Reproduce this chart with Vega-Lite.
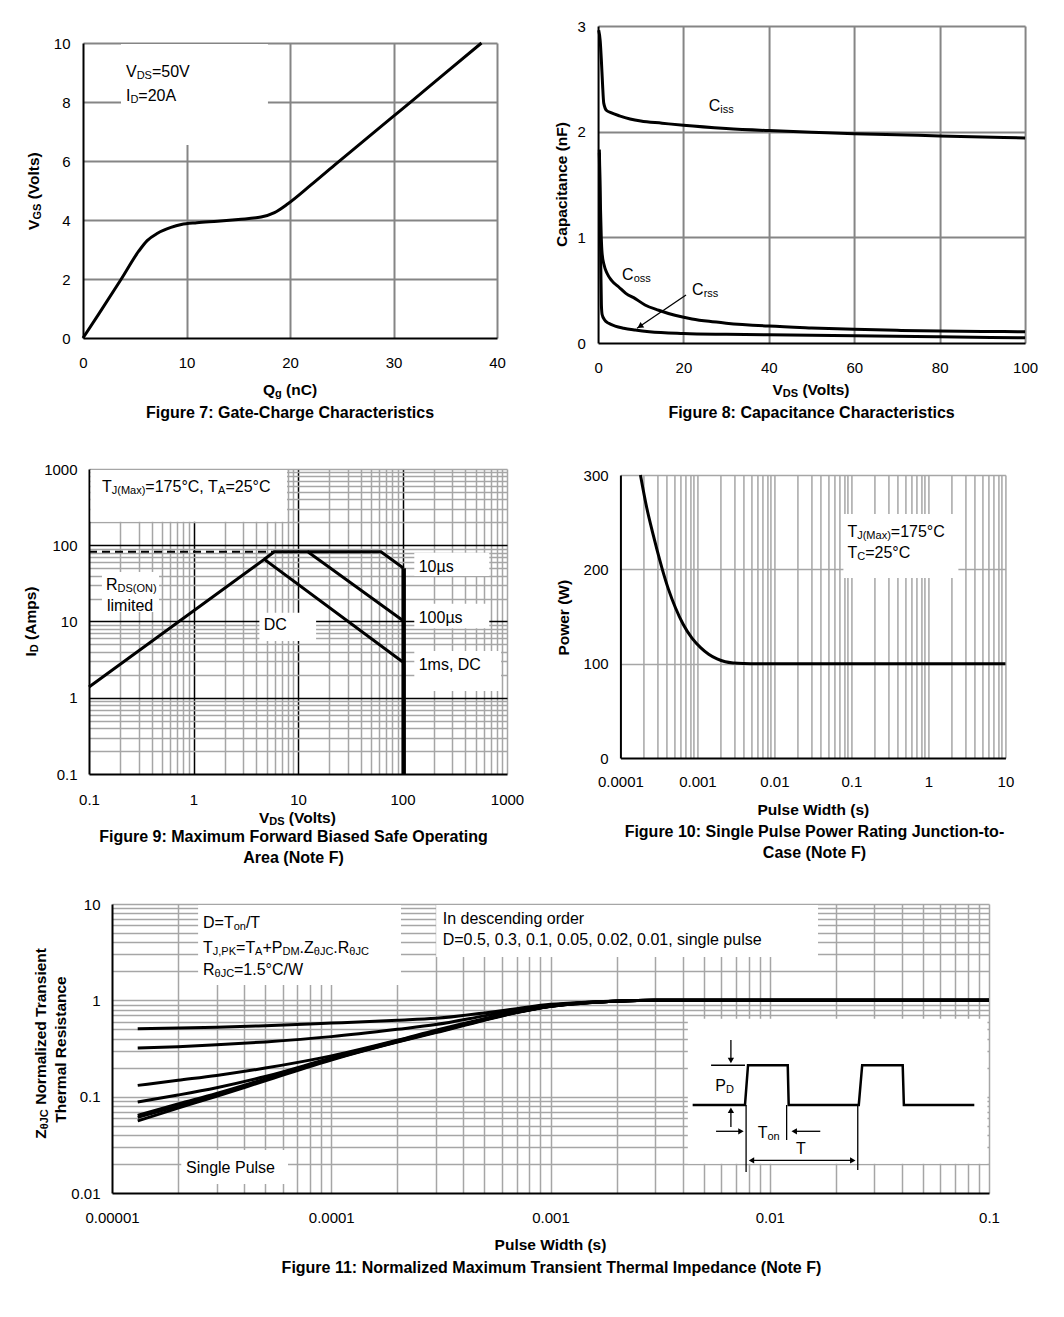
{
"$schema": "https://vega.github.io/schema/vega-lite/v6.json",
"padding": {"left": 0, "top": 19, "right": 0, "bottom": 0},
"background": "white",
"config": {
  "view": {"stroke": null},
  "font": "Liberation Sans",
  "axis": {"ticks": false, "tickSize": 0, "domainColor": "black", "domainWidth": 2, "labelFont": "Liberation Sans", "labelFontSize": 15, "labelColor": "black", "labelFlush": false, "labelOverlap": false, "grid": true, "gridColor": "#a6a6a6", "gridWidth": 1.5}
},
"datasets": {
  "f7box": [{"x":3.67,"x2":17.87,"y":6.54,"y2":9.966}],
  "f7line": [{"o":0,"x":0,"y":0},{"o":1,"x":1.5,"y":0.8},{"o":2,"x":3.7,"y":2.0},{"o":3,"x":5.4,"y":2.95},{"o":4,"x":6.2,"y":3.3},{"o":5,"x":7.2,"y":3.55},{"o":6,"x":8.5,"y":3.75},{"o":7,"x":9.5,"y":3.85},{"o":8,"x":11,"y":3.91},{"o":9,"x":13,"y":3.96},{"o":10,"x":15,"y":4.02},{"o":11,"x":17.2,"y":4.1},{"o":12,"x":18.5,"y":4.25},{"o":13,"x":19.8,"y":4.55},{"o":14,"x":22,"y":5.18},{"o":15,"x":24.3,"y":5.86},{"o":16,"x":27.5,"y":6.79},{"o":17,"x":29.8,"y":7.46},{"o":18,"x":32,"y":8.1},{"o":19,"x":35,"y":8.98},{"o":20,"x":38.5,"y":10}],
  "f7text": [
    {"role":"ann","t":"V","x":4.155,"y":8.834},
    {"role":"sub","t":"DS","x":5.186,"y":8.834},
    {"role":"ann","t":"=50V","x":6.662,"y":8.834},
    {"role":"ann","t":"I","x":4.155,"y":8.044},
    {"role":"sub","t":"D","x":4.585,"y":8.044},
    {"role":"ann","t":"=20A","x":5.35,"y":8.044},
    {"role":"tit","t":"Q","x":17.39,"y":-1.946},
    {"role":"titsub","t":"g","x":18.56,"y":-1.946},
    {"role":"tit","t":"(nC)","x":19.62,"y":-1.946},
    {"role":"titr","t":"V","x":-4.213,"y":3.664},
    {"role":"titrsub","t":"GS","x":-4.213,"y":4.015},
    {"role":"titr","t":"(Volts)","x":-4.213,"y":4.7},
    {"role":"cap","t":"Figure 7: Gate-Charge Characteristics","x":20,"y":-2.725}
  ],
  "f8line": [
    {"s":"Ciss","o":0,"x":0.15,"y":2.96},{"s":"Ciss","o":1,"x":0.5,"y":2.86},{"s":"Ciss","o":2,"x":0.77,"y":2.68},{"s":"Ciss","o":3,"x":1.05,"y":2.45},{"s":"Ciss","o":4,"x":1.33,"y":2.27},{"s":"Ciss","o":5,"x":2,"y":2.2},{"s":"Ciss","o":6,"x":3,"y":2.18},{"s":"Ciss","o":7,"x":5,"y":2.15},{"s":"Ciss","o":8,"x":7.5,"y":2.12},{"s":"Ciss","o":9,"x":10,"y":2.1},{"s":"Ciss","o":10,"x":15,"y":2.08},{"s":"Ciss","o":11,"x":20,"y":2.06},{"s":"Ciss","o":12,"x":30,"y":2.03},{"s":"Ciss","o":13,"x":40,"y":2.01},{"s":"Ciss","o":14,"x":50,"y":1.995},{"s":"Ciss","o":15,"x":60,"y":1.98},{"s":"Ciss","o":16,"x":70,"y":1.97},{"s":"Ciss","o":17,"x":80,"y":1.96},{"s":"Ciss","o":18,"x":90,"y":1.95},{"s":"Ciss","o":19,"x":100,"y":1.94},
    {"s":"Coss","o":0,"x":0.3,"y":1.83},{"s":"Coss","o":1,"x":0.54,"y":1.32},{"s":"Coss","o":2,"x":0.75,"y":1.0},{"s":"Coss","o":3,"x":0.94,"y":0.85},{"s":"Coss","o":4,"x":1.4,"y":0.74},{"s":"Coss","o":5,"x":2.1,"y":0.66},{"s":"Coss","o":6,"x":3.2,"y":0.59},{"s":"Coss","o":7,"x":4.85,"y":0.53},{"s":"Coss","o":8,"x":6.5,"y":0.47},{"s":"Coss","o":9,"x":8.7,"y":0.42},{"s":"Coss","o":10,"x":11,"y":0.36},{"s":"Coss","o":11,"x":14.2,"y":0.31},{"s":"Coss","o":12,"x":18,"y":0.262},{"s":"Coss","o":13,"x":22,"y":0.228},{"s":"Coss","o":14,"x":26,"y":0.205},{"s":"Coss","o":15,"x":30,"y":0.188},{"s":"Coss","o":16,"x":40,"y":0.16},{"s":"Coss","o":17,"x":50,"y":0.143},{"s":"Coss","o":18,"x":60,"y":0.13},{"s":"Coss","o":19,"x":70,"y":0.12},{"s":"Coss","o":20,"x":80,"y":0.113},{"s":"Coss","o":21,"x":90,"y":0.11},{"s":"Coss","o":22,"x":100,"y":0.107},
    {"s":"Crss","o":0,"x":0.3,"y":1.8},{"s":"Crss","o":1,"x":0.5,"y":1.2},{"s":"Crss","o":2,"x":0.65,"y":0.7},{"s":"Crss","o":3,"x":0.78,"y":0.36},{"s":"Crss","o":4,"x":0.95,"y":0.27},{"s":"Crss","o":5,"x":1.5,"y":0.22},{"s":"Crss","o":6,"x":2.5,"y":0.186},{"s":"Crss","o":7,"x":4,"y":0.16},{"s":"Crss","o":8,"x":6,"y":0.14},{"s":"Crss","o":9,"x":8.7,"y":0.123},{"s":"Crss","o":10,"x":12,"y":0.107},{"s":"Crss","o":11,"x":20,"y":0.09},{"s":"Crss","o":12,"x":30,"y":0.082},{"s":"Crss","o":13,"x":40,"y":0.077},{"s":"Crss","o":14,"x":60,"y":0.068},{"s":"Crss","o":15,"x":80,"y":0.058},{"s":"Crss","o":16,"x":100,"y":0.05}
  ],
  "f8arrow": [{"x":20.6,"y":0.454,"x2":9.13,"y2":0.139}],
  "f8head": [{"x":9.81,"y":0.158}],
  "f8text": [
    {"role":"ann","t":"C","x":25.93,"y":2.198},
    {"role":"sub","t":"iss","x":28.64,"y":2.198},
    {"role":"ann","t":"C","x":5.62,"y":0.599},
    {"role":"sub","t":"oss","x":8.34,"y":0.599},
    {"role":"ann","t":"C","x":22.01,"y":0.454},
    {"role":"sub","t":"rss","x":24.73,"y":0.454},
    {"role":"tit","t":"V","x":40.84,"y":-0.489},
    {"role":"titsub","t":"DS","x":43.26,"y":-0.489},
    {"role":"tit","t":"(Volts)","x":47.85,"y":-0.489},
    {"role":"titrc","t":"Capacitance (nF)","x":-7.17,"y":1.5},
    {"role":"cap","t":"Figure 8: Capacitance Characteristics","x":50,"y":-0.7135}
  ],
  "f9box": [{"x":0.1034,"x2":7.85,"y":204,"y2":970},{"x":0.133,"x2":0.468,"y":13.3,"y2":44.6},{"x":4.27,"x2":14.9,"y":5.55,"y2":13.0},{"x":129.7,"x2":677,"y":39.5,"y2":79.8},{"x":129.7,"x2":677,"y":8.15,"y2":17.1},{"x":129.7,"x2":877,"y":1.23,"y2":4.1}],
  "f9line": [
    {"s":"a","o":0,"x":0.1,"y":1.38},{"s":"a","o":1,"x":4.76,"y":65.4},{"s":"a","o":2,"x":100,"y":2.97},
    {"s":"b","o":0,"x":4.76,"y":65.4},{"s":"b","o":1,"x":5.93,"y":82},{"s":"b","o":2,"x":12.4,"y":82},{"s":"b","o":3,"x":100,"y":10.4},
    {"s":"c","o":0,"x":12.4,"y":82},{"s":"c","o":1,"x":62.2,"y":82},{"s":"c","o":2,"x":102.6,"y":49.9}
  ],
  "f9dash": [{"o":0,"x":0.1,"y":82},{"o":1,"x":5.93,"y":82}],
  "f9thick": [{"x":102.6,"y":49.9,"y2":0.1}],
  "f9text": [
    {"role":"ann","t":"T","x":0.1331,"y":503.6},
    {"role":"sub","t":"J(Max)","x":0.1652,"y":503.6},
    {"role":"ann","t":"=175°C, T","x":0.3463,"y":503.6},
    {"role":"sub","t":"A","x":1.719,"y":503.6},
    {"role":"ann","t":"=25°C","x":2.021,"y":503.6},
    {"role":"ann","t":"R","x":0.1455,"y":26.1},
    {"role":"sub","t":"DS(ON)","x":0.1875,"y":26.1},
    {"role":"ann","t":"limited","x":0.1486,"y":13.86},
    {"role":"ann","t":"DC","x":4.697,"y":7.74},
    {"role":"ann","t":"10µs","x":142.9,"y":44.97},
    {"role":"ann","t":"100µs","x":142.9,"y":9.65},
    {"role":"ann","t":"1ms, DC","x":142.9,"y":2.31},
    {"role":"tit","t":"V","x":4.225,"y":0.0227},
    {"role":"titsub","t":"DS","x":5.306,"y":0.0227},
    {"role":"tit","t":"(Volts)","x":8.17,"y":0.0227},
    {"role":"titr","t":"I","x":0.0314,"y":3.475},
    {"role":"titrsub","t":"D","x":0.0314,"y":3.958},
    {"role":"titr","t":"(Amps)","x":0.0314,"y":5.732},
    {"role":"cap","t":"Figure 9: Maximum Forward Biased Safe Operating","x":9.06,"y":0.01294},
    {"role":"cap","t":"Area (Note F)","x":9.06,"y":0.00676}
  ],
  "f10box": [{"x":0.0787,"x2":2.45,"y":190.8,"y2":258.7}],
  "f10line": [{"o":0,"x":0.000182,"y":300},{"o":1,"x":0.00022,"y":265},{"o":2,"x":0.00026,"y":240},{"o":3,"x":0.0003,"y":220},{"o":4,"x":0.00035,"y":200},{"o":5,"x":0.00042,"y":179},{"o":6,"x":0.00052,"y":159},{"o":7,"x":0.00065,"y":142},{"o":8,"x":0.00085,"y":127},{"o":9,"x":0.0011,"y":117},{"o":10,"x":0.0014,"y":110},{"o":11,"x":0.0018,"y":105},{"o":12,"x":0.0023,"y":102},{"o":13,"x":0.003,"y":100.7},{"o":14,"x":0.004,"y":100.2},{"o":15,"x":0.006,"y":100},{"o":16,"x":10,"y":100}],
  "f10text": [
    {"role":"ann","t":"T","x":0.08872,"y":234.6},
    {"role":"sub","t":"J(Max)","x":0.1189,"y":234.6},
    {"role":"ann","t":"=175°C","x":0.3246,"y":234.6},
    {"role":"ann","t":"T","x":0.08872,"y":211.6},
    {"role":"sub","t":"C","x":0.1189,"y":211.6},
    {"role":"ann","t":"=25°C","x":0.1508,"y":211.6},
    {"role":"titc","t":"Pulse Width (s)","x":0.032,"y":-60.1},
    {"role":"titrc","t":"Power (W)","x":0.0000212,"y":148.7},
    {"role":"cap","t":"Figure 10: Single Pulse Power Rating Junction-to-","x":0.03308,"y":-84.2},
    {"role":"cap","t":"Case (Note F)","x":0.03308,"y":-106.4}
  ],
  "f11box": [{"x":0.0000247,"x2":0.000208,"y":1.44,"y2":9.76},{"x":0.000301,"x2":0.0166,"y":2.82,"y2":9.76},{"x":0.0000207,"x2":0.0000635,"y":0.0124,"y2":0.0279},{"x":0.00423,"x2":0.0984,"y":0.0201,"y2":0.644}],
  "f11line": [
    {"s":"0.5","o":0,"x":0.0000131,"y":0.507},{"s":"0.5","o":1,"x":0.00002,"y":0.515},{"s":"0.5","o":2,"x":0.00003,"y":0.525},{"s":"0.5","o":3,"x":0.00005,"y":0.545},{"s":"0.5","o":4,"x":0.0001,"y":0.58},{"s":"0.5","o":5,"x":0.0002,"y":0.62},{"s":"0.5","o":6,"x":0.0003,"y":0.65},{"s":"0.5","o":7,"x":0.0005,"y":0.74},{"s":"0.5","o":8,"x":0.0007,"y":0.82},{"s":"0.5","o":9,"x":0.001,"y":0.91},{"s":"0.5","o":10,"x":0.0015,"y":0.96},{"s":"0.5","o":11,"x":0.002,"y":0.985},{"s":"0.5","o":12,"x":0.003,"y":1.0},{"s":"0.5","o":13,"x":0.1,"y":1.0},
    {"s":"0.3","o":0,"x":0.0000131,"y":0.32},{"s":"0.3","o":1,"x":0.00002,"y":0.33},{"s":"0.3","o":2,"x":0.00003,"y":0.345},{"s":"0.3","o":3,"x":0.00005,"y":0.37},{"s":"0.3","o":4,"x":0.0001,"y":0.42},{"s":"0.3","o":5,"x":0.0002,"y":0.5},{"s":"0.3","o":6,"x":0.0003,"y":0.56},{"s":"0.3","o":7,"x":0.0005,"y":0.69},{"s":"0.3","o":8,"x":0.0007,"y":0.79},{"s":"0.3","o":9,"x":0.001,"y":0.89},{"s":"0.3","o":10,"x":0.0015,"y":0.955},{"s":"0.3","o":11,"x":0.002,"y":0.98},{"s":"0.3","o":12,"x":0.003,"y":1.0},{"s":"0.3","o":13,"x":0.1,"y":1.0},
    {"s":"0.1","o":0,"x":0.0000131,"y":0.131},{"s":"0.1","o":1,"x":0.00002,"y":0.148},{"s":"0.1","o":2,"x":0.00003,"y":0.166},{"s":"0.1","o":3,"x":0.00005,"y":0.198},{"s":"0.1","o":4,"x":0.0001,"y":0.265},{"s":"0.1","o":5,"x":0.0002,"y":0.385},{"s":"0.1","o":6,"x":0.0003,"y":0.49},{"s":"0.1","o":7,"x":0.0005,"y":0.645},{"s":"0.1","o":8,"x":0.0007,"y":0.76},{"s":"0.1","o":9,"x":0.001,"y":0.875},{"s":"0.1","o":10,"x":0.0015,"y":0.95},{"s":"0.1","o":11,"x":0.002,"y":0.98},{"s":"0.1","o":12,"x":0.003,"y":1.0},{"s":"0.1","o":13,"x":0.1,"y":1.0},
    {"s":"0.05","o":0,"x":0.0000131,"y":0.088},{"s":"0.05","o":1,"x":0.00002,"y":0.104},{"s":"0.05","o":2,"x":0.00003,"y":0.124},{"s":"0.05","o":3,"x":0.00005,"y":0.162},{"s":"0.05","o":4,"x":0.0001,"y":0.252},{"s":"0.05","o":5,"x":0.0002,"y":0.38},{"s":"0.05","o":6,"x":0.0003,"y":0.478},{"s":"0.05","o":7,"x":0.0005,"y":0.635},{"s":"0.05","o":8,"x":0.0007,"y":0.755},{"s":"0.05","o":9,"x":0.001,"y":0.87},{"s":"0.05","o":10,"x":0.0015,"y":0.948},{"s":"0.05","o":11,"x":0.002,"y":0.98},{"s":"0.05","o":12,"x":0.003,"y":1.0},{"s":"0.05","o":13,"x":0.1,"y":1.0},
    {"s":"0.02","o":0,"x":0.0000131,"y":0.064},{"s":"0.02","o":1,"x":0.00002,"y":0.084},{"s":"0.02","o":2,"x":0.00003,"y":0.108},{"s":"0.02","o":3,"x":0.00005,"y":0.153},{"s":"0.02","o":4,"x":0.0001,"y":0.247},{"s":"0.02","o":5,"x":0.0002,"y":0.375},{"s":"0.02","o":6,"x":0.0003,"y":0.472},{"s":"0.02","o":7,"x":0.0005,"y":0.63},{"s":"0.02","o":8,"x":0.0007,"y":0.75},{"s":"0.02","o":9,"x":0.001,"y":0.868},{"s":"0.02","o":10,"x":0.0015,"y":0.947},{"s":"0.02","o":11,"x":0.002,"y":0.979},{"s":"0.02","o":12,"x":0.003,"y":1.0},{"s":"0.02","o":13,"x":0.1,"y":1.0},
    {"s":"0.01","o":0,"x":0.0000131,"y":0.061},{"s":"0.01","o":1,"x":0.00002,"y":0.08},{"s":"0.01","o":2,"x":0.00003,"y":0.105},{"s":"0.01","o":3,"x":0.00005,"y":0.15},{"s":"0.01","o":4,"x":0.0001,"y":0.244},{"s":"0.01","o":5,"x":0.0002,"y":0.372},{"s":"0.01","o":6,"x":0.0003,"y":0.468},{"s":"0.01","o":7,"x":0.0005,"y":0.627},{"s":"0.01","o":8,"x":0.0007,"y":0.748},{"s":"0.01","o":9,"x":0.001,"y":0.866},{"s":"0.01","o":10,"x":0.0015,"y":0.946},{"s":"0.01","o":11,"x":0.002,"y":0.979},{"s":"0.01","o":12,"x":0.003,"y":1.0},{"s":"0.01","o":13,"x":0.1,"y":1.0},
    {"s":"single","o":0,"x":0.0000131,"y":0.056},{"s":"single","o":1,"x":0.00002,"y":0.076},{"s":"single","o":2,"x":0.00003,"y":0.101},{"s":"single","o":3,"x":0.00005,"y":0.146},{"s":"single","o":4,"x":0.0001,"y":0.24},{"s":"single","o":5,"x":0.0002,"y":0.368},{"s":"single","o":6,"x":0.0003,"y":0.462},{"s":"single","o":7,"x":0.0005,"y":0.622},{"s":"single","o":8,"x":0.0007,"y":0.745},{"s":"single","o":9,"x":0.001,"y":0.864},{"s":"single","o":10,"x":0.0015,"y":0.945},{"s":"single","o":11,"x":0.002,"y":0.978},{"s":"single","o":12,"x":0.003,"y":1.0},{"s":"single","o":13,"x":0.1,"y":1.0}
  ],
  "f11pulse": [{"o":0,"x":0.00445,"y":0.082},{"o":1,"x":0.00771,"y":0.082},{"o":2,"x":0.00796,"y":0.212},{"o":3,"x":0.01208,"y":0.212},{"o":4,"x":0.0122,"y":0.082},{"o":5,"x":0.02547,"y":0.082},{"o":6,"x":0.0264,"y":0.212},{"o":7,"x":0.0404,"y":0.212},{"o":8,"x":0.0409,"y":0.082},{"o":9,"x":0.0857,"y":0.082}],
  "f11rule": [
    {"x":0.0054,"y":0.212,"x2":0.00771,"y2":0.212},
    {"x":0.00665,"y":0.387,"x2":0.00665,"y2":0.2373},
    {"x":0.00665,"y":0.0484,"x2":0.00665,"y2":0.0723},
    {"x":0.0078,"y":0.082,"x2":0.0078,"y2":0.0165},
    {"x":0.01194,"y":0.082,"x2":0.01194,"y2":0.0355},
    {"x":0.0252,"y":0.082,"x2":0.0252,"y2":0.0173},
    {"x":0.00569,"y":0.0437,"x2":0.007391,"y2":0.0437},
    {"x":0.017,"y":0.0437,"x2":0.01293,"y2":0.0437},
    {"x":0.008254,"y":0.0218,"x2":0.02392,"y2":0.0218}
  ],
  "f11hd": [{"x":0.00665,"y":0.2373}],
  "f11hu": [{"x":0.00665,"y":0.0723}],
  "f11hr": [{"x":0.007391,"y":0.0437},{"x":0.02392,"y":0.0218}],
  "f11hl": [{"x":0.01293,"y":0.0437},{"x":0.008254,"y":0.0218}],
  "f11text": [
    {"role":"ann","t":"D=T","x":0.000026,"y":5.675},
    {"role":"sub","t":"on","x":0.00003591,"y":5.675},
    {"role":"ann","t":"/T","x":0.0000408,"y":5.675},
    {"role":"ann","t":"T","x":0.000026,"y":3.122},
    {"role":"sub","t":"J,PK","x":0.00002882,"y":3.122},
    {"role":"ann","t":"=T","x":0.00003679,"y":3.122},
    {"role":"sub","t":"A","x":0.00004495,"y":3.122},
    {"role":"ann","t":"+P","x":0.00004858,"y":3.122},
    {"role":"sub","t":"DM","x":0.00005993,"y":3.122},
    {"role":"ann","t":".Z","x":0.0000717,"y":3.122},
    {"role":"sub","t":"θJC","x":0.00008326,"y":3.122},
    {"role":"ann","t":".R","x":0.00010217,"y":3.122},
    {"role":"sub","t":"θJC","x":0.00012088,"y":3.122},
    {"role":"ann","t":"R","x":0.000026,"y":1.845},
    {"role":"sub","t":"θJC","x":0.00002936,"y":1.845},
    {"role":"ann","t":"=1.5°C/W","x":0.00003602,"y":1.845},
    {"role":"ann","t":"In descending order","x":0.0003224,"y":6.141},
    {"role":"ann","t":"D=0.5, 0.3, 0.1, 0.05, 0.02, 0.01, single pulse","x":0.0003224,"y":3.718},
    {"role":"ann","t":"Single Pulse","x":0.00002176,"y":0.01624},
    {"role":"ann","t":"P","x":0.005644,"y":0.1145},
    {"role":"sub","t":"D","x":0.006317,"y":0.1145},
    {"role":"ann","t":"T","x":0.00881,"y":0.0375},
    {"role":"sub","t":"on","x":0.009765,"y":0.0375},
    {"role":"ann","t":"T","x":0.01317,"y":0.02515},
    {"role":"titc","t":"Pulse Width (s)","x":0.001,"y":0.002535},
    {"role":"titr","t":"Z","x":0.000004994,"y":0.03661},
    {"role":"titrsub","t":"θJC","x":0.000004994,"y":0.04596},
    {"role":"titr","t":"Normalized Transient","x":0.000004994,"y":0.08232},
    {"role":"titrc","t":"Thermal Resistance","x":0.000006163,"y":0.3088},
    {"role":"cap","t":"Figure 11: Normalized Maximum Transient Thermal Impedance (Note F)","x":0.00101,"y":0.00149}
  ]
},
"spacing": 30,
"vconcat": [
  {"spacing": 0, "hconcat": [
    {"width": 26.4, "height": 1, "data": {"values": []}, "mark": "point"},
    {"spacing": 49.06, "hconcat": [
      {"spacing": 0, "vconcat": [
        {"width": 1, "height": 10, "data": {"values": []}, "mark": "point"},
        {"width": 414, "height": 295,
         "encoding": {
           "x": {"field": "x", "type": "quantitative", "scale": {"domain": [0, 40], "nice": false, "zero": false},
                 "axis": {"title": null, "values": [0, 10, 20, 30, 40], "labelPadding": 17, "gridColor": "#858585", "gridWidth": 2, "gridOpacity": {"condition": {"test": "datum.value == 0", "value": 0}, "value": 1}}},
           "y": {"field": "y", "type": "quantitative", "scale": {"domain": [0, 10], "nice": false, "zero": false},
                 "axis": {"title": null, "values": [0, 2, 4, 6, 8, 10], "labelPadding": 13, "gridColor": "#858585", "gridWidth": 2, "gridOpacity": {"condition": {"test": "datum.value == 0", "value": 0}, "value": 1}}}
         },
         "layer": [
           {"data": {"name": "f7box"}, "mark": {"type": "rect", "fill": "white"}, "encoding": {"x2": {"field": "x2"}, "y2": {"field": "y2"}}},
           {"data": {"name": "f7line"}, "mark": {"type": "line", "color": "black", "strokeWidth": 3, "interpolate": "monotone"}, "encoding": {"order": {"field": "o", "type": "quantitative"}}},
           {"data": {"name": "f7text"}, "transform": [{"filter": "datum.role == 'ann'"}], "mark": {"type": "text", "fontSize": 16, "align": "left", "baseline": "alphabetic", "color": "black"}, "encoding": {"text": {"field": "t"}}},
           {"data": {"name": "f7text"}, "transform": [{"filter": "datum.role == 'sub'"}], "mark": {"type": "text", "fontSize": 11, "align": "left", "baseline": "alphabetic", "dy": 2, "color": "black"}, "encoding": {"text": {"field": "t"}}},
           {"data": {"name": "f7text"}, "transform": [{"filter": "datum.role == 'tit'"}], "mark": {"type": "text", "fontSize": 15.5, "fontWeight": "bold", "align": "left", "baseline": "alphabetic", "color": "black"}, "encoding": {"text": {"field": "t"}}},
           {"data": {"name": "f7text"}, "transform": [{"filter": "datum.role == 'titsub'"}], "mark": {"type": "text", "fontSize": 11, "fontWeight": "bold", "align": "left", "baseline": "alphabetic", "dy": 2, "color": "black"}, "encoding": {"text": {"field": "t"}}},
           {"data": {"name": "f7text"}, "transform": [{"filter": "datum.role == 'titr'"}], "mark": {"type": "text", "fontSize": 15.5, "fontWeight": "bold", "align": "left", "baseline": "alphabetic", "angle": 270, "color": "black"}, "encoding": {"text": {"field": "t"}}},
           {"data": {"name": "f7text"}, "transform": [{"filter": "datum.role == 'titrsub'"}], "mark": {"type": "text", "fontSize": 11, "fontWeight": "bold", "align": "left", "baseline": "alphabetic", "angle": 270, "dy": 2, "color": "black"}, "encoding": {"text": {"field": "t"}}},
           {"data": {"name": "f7text"}, "transform": [{"filter": "datum.role == 'cap'"}], "mark": {"type": "text", "fontSize": 16, "fontWeight": "bold", "align": "center", "baseline": "alphabetic", "color": "black"}, "encoding": {"text": {"field": "t"}}}
         ]
        }
      ]},
      {"width": 427, "height": 317,
       "encoding": {
         "x": {"field": "x", "type": "quantitative", "scale": {"domain": [0, 100], "nice": false, "zero": false},
               "axis": {"title": null, "values": [0, 20, 40, 60, 80, 100], "labelPadding": 17, "gridColor": "#858585", "gridWidth": 2, "gridOpacity": {"condition": {"test": "datum.value == 0", "value": 0}, "value": 1}}},
         "y": {"field": "y", "type": "quantitative", "scale": {"domain": [0, 3], "nice": false, "zero": false},
               "axis": {"title": null, "values": [0, 1, 2, 3], "labelPadding": 12.7, "gridColor": "#858585", "gridWidth": 2, "gridOpacity": {"condition": {"test": "datum.value == 0", "value": 0}, "value": 1}}}
       },
       "layer": [
         {"data": {"name": "f8line"}, "mark": {"type": "line", "color": "black", "strokeWidth": 3, "interpolate": "monotone"}, "encoding": {"detail": {"field": "s"}, "order": {"field": "o", "type": "quantitative"}}},
         {"data": {"name": "f8arrow"}, "mark": {"type": "rule", "color": "black", "strokeWidth": 1.3}, "encoding": {"x2": {"field": "x2"}, "y2": {"field": "y2"}}},
         {"data": {"name": "f8head"}, "mark": {"type": "point", "shape": "triangle-up", "filled": true, "color": "black", "opacity": 1, "size": 45, "angle": 236}},
         {"data": {"name": "f8text"}, "transform": [{"filter": "datum.role == 'ann'"}], "mark": {"type": "text", "fontSize": 16, "align": "left", "baseline": "alphabetic", "color": "black"}, "encoding": {"text": {"field": "t"}}},
         {"data": {"name": "f8text"}, "transform": [{"filter": "datum.role == 'sub'"}], "mark": {"type": "text", "fontSize": 11, "align": "left", "baseline": "alphabetic", "dy": 2, "color": "black"}, "encoding": {"text": {"field": "t"}}},
         {"data": {"name": "f8text"}, "transform": [{"filter": "datum.role == 'tit'"}], "mark": {"type": "text", "fontSize": 15.5, "fontWeight": "bold", "align": "left", "baseline": "alphabetic", "color": "black"}, "encoding": {"text": {"field": "t"}}},
         {"data": {"name": "f8text"}, "transform": [{"filter": "datum.role == 'titsub'"}], "mark": {"type": "text", "fontSize": 11, "fontWeight": "bold", "align": "left", "baseline": "alphabetic", "dy": 2, "color": "black"}, "encoding": {"text": {"field": "t"}}},
         {"data": {"name": "f8text"}, "transform": [{"filter": "datum.role == 'titrc'"}], "mark": {"type": "text", "fontSize": 15.5, "fontWeight": "bold", "align": "center", "baseline": "alphabetic", "angle": 270, "color": "black"}, "encoding": {"text": {"field": "t"}}},
         {"data": {"name": "f8text"}, "transform": [{"filter": "datum.role == 'cap'"}], "mark": {"type": "text", "fontSize": 16, "fontWeight": "bold", "align": "center", "baseline": "alphabetic", "color": "black"}, "encoding": {"text": {"field": "t"}}}
       ]
      }
    ]}
  ]},
  {"spacing": 0, "hconcat": [
    {"width": 23.4, "height": 1, "data": {"values": []}, "mark": "point"},
    {"spacing": 32.42, "hconcat": [
      {"spacing": 0, "vconcat": [
        {"width": 1, "height": 9.6, "data": {"values": []}, "mark": "point"},
        {"width": 418, "height": 305,
         "encoding": {
           "x": {"field": "x", "type": "quantitative", "scale": {"type": "log", "domain": [0.1, 1000], "nice": false},
                 "axis": {"title": null, "values": [0.1,0.2,0.3,0.4,0.5,0.6,0.7,0.8,0.9,1,2,3,4,5,6,7,8,9,10,20,30,40,50,60,70,80,90,100,200,300,400,500,600,700,800,900,1000], "format": "~g", "labelExpr": "indexof([0.1,1,10,100,1000], datum.value) >= 0 ? format(datum.value, '~g') : ''", "labelPadding": 18.5,
                          "gridColor": {"condition": {"test": "datum.value == 1 || datum.value == 10 || datum.value == 100", "value": "black"}, "value": "#a6a6a6"},
                          "gridOpacity": {"condition": {"test": "datum.value == 0.1", "value": 0}, "value": 1}}},
           "y": {"field": "y", "type": "quantitative", "scale": {"type": "log", "domain": [0.1, 1000], "nice": false},
                 "axis": {"title": null, "values": [0.1,0.2,0.3,0.4,0.5,0.6,0.7,0.8,0.9,1,2,3,4,5,6,7,8,9,10,20,30,40,50,60,70,80,90,100,200,300,400,500,600,700,800,900,1000], "format": "~g", "labelExpr": "indexof([0.1,1,10,100,1000], datum.value) >= 0 ? format(datum.value, '~g') : ''", "labelPadding": 12,
                          "gridColor": {"condition": {"test": "datum.value == 1 || datum.value == 10 || datum.value == 100", "value": "black"}, "value": "#a6a6a6"},
                          "gridOpacity": {"condition": {"test": "datum.value == 0.1", "value": 0}, "value": 1}}}
         },
         "layer": [
           {"data": {"name": "f9box"}, "mark": {"type": "rect", "fill": "white"}, "encoding": {"x2": {"field": "x2"}, "y2": {"field": "y2"}}},
           {"data": {"name": "f9line"}, "mark": {"type": "line", "color": "black", "strokeWidth": 3}, "encoding": {"detail": {"field": "s"}, "order": {"field": "o", "type": "quantitative"}}},
           {"data": {"name": "f9dash"}, "mark": {"type": "line", "color": "black", "strokeWidth": 2, "strokeDash": [8, 5]}, "encoding": {"order": {"field": "o", "type": "quantitative"}}},
           {"data": {"name": "f9thick"}, "mark": {"type": "rule", "color": "black", "strokeWidth": 4.5}, "encoding": {"y2": {"field": "y2"}}},
           {"data": {"name": "f9text"}, "transform": [{"filter": "datum.role == 'ann'"}], "mark": {"type": "text", "fontSize": 16, "align": "left", "baseline": "alphabetic", "color": "black"}, "encoding": {"text": {"field": "t"}}},
           {"data": {"name": "f9text"}, "transform": [{"filter": "datum.role == 'sub'"}], "mark": {"type": "text", "fontSize": 11, "align": "left", "baseline": "alphabetic", "dy": 2, "color": "black"}, "encoding": {"text": {"field": "t"}}},
           {"data": {"name": "f9text"}, "transform": [{"filter": "datum.role == 'tit'"}], "mark": {"type": "text", "fontSize": 15.5, "fontWeight": "bold", "align": "left", "baseline": "alphabetic", "color": "black"}, "encoding": {"text": {"field": "t"}}},
           {"data": {"name": "f9text"}, "transform": [{"filter": "datum.role == 'titsub'"}], "mark": {"type": "text", "fontSize": 11, "fontWeight": "bold", "align": "left", "baseline": "alphabetic", "dy": 2, "color": "black"}, "encoding": {"text": {"field": "t"}}},
           {"data": {"name": "f9text"}, "transform": [{"filter": "datum.role == 'titr'"}], "mark": {"type": "text", "fontSize": 15.5, "fontWeight": "bold", "align": "left", "baseline": "alphabetic", "angle": 270, "color": "black"}, "encoding": {"text": {"field": "t"}}},
           {"data": {"name": "f9text"}, "transform": [{"filter": "datum.role == 'titrsub'"}], "mark": {"type": "text", "fontSize": 11, "fontWeight": "bold", "align": "left", "baseline": "alphabetic", "angle": 270, "dy": 2, "color": "black"}, "encoding": {"text": {"field": "t"}}},
           {"data": {"name": "f9text"}, "transform": [{"filter": "datum.role == 'cap'"}], "mark": {"type": "text", "fontSize": 16, "fontWeight": "bold", "align": "center", "baseline": "alphabetic", "color": "black"}, "encoding": {"text": {"field": "t"}}}
         ]
        }
      ]},
      {"spacing": 0, "vconcat": [
        {"width": 1, "height": 15.6, "data": {"values": []}, "mark": "point"},
        {"width": 385, "height": 283,
         "encoding": {
           "x": {"field": "x", "type": "quantitative", "scale": {"type": "log", "domain": [0.0001, 10], "nice": false},
                 "axis": {"title": null, "values": [0.0001,0.0002,0.0003,0.0004,0.0005,0.0006,0.0007,0.0008,0.0009,0.001,0.002,0.003,0.004,0.005,0.006,0.007,0.008,0.009,0.01,0.02,0.03,0.04,0.05,0.06,0.07,0.08,0.09,0.1,0.2,0.3,0.4,0.5,0.6,0.7,0.8,0.9,1,2,3,4,5,6,7,8,9,10], "format": "~g", "labelExpr": "indexof([0.0001,0.001,0.01,0.1,1,10], datum.value) >= 0 ? format(datum.value, '~g') : ''", "labelPadding": 16.5,
                          "gridOpacity": {"condition": {"test": "datum.value == 0.0001", "value": 0}, "value": 1}}},
           "y": {"field": "y", "type": "quantitative", "scale": {"domain": [0, 300], "nice": false, "zero": false},
                 "axis": {"title": null, "values": [0, 100, 200, 300], "labelPadding": 12.3,
                          "gridOpacity": {"condition": {"test": "datum.value == 0", "value": 0}, "value": 1}}}
         },
         "layer": [
           {"data": {"name": "f10box"}, "mark": {"type": "rect", "fill": "white"}, "encoding": {"x2": {"field": "x2"}, "y2": {"field": "y2"}}},
           {"data": {"name": "f10line"}, "mark": {"type": "line", "color": "black", "strokeWidth": 3, "interpolate": "monotone"}, "encoding": {"order": {"field": "o", "type": "quantitative"}}},
           {"data": {"name": "f10text"}, "transform": [{"filter": "datum.role == 'ann'"}], "mark": {"type": "text", "fontSize": 16, "align": "left", "baseline": "alphabetic", "color": "black"}, "encoding": {"text": {"field": "t"}}},
           {"data": {"name": "f10text"}, "transform": [{"filter": "datum.role == 'sub'"}], "mark": {"type": "text", "fontSize": 11, "align": "left", "baseline": "alphabetic", "dy": 2, "color": "black"}, "encoding": {"text": {"field": "t"}}},
           {"data": {"name": "f10text"}, "transform": [{"filter": "datum.role == 'titc'"}], "mark": {"type": "text", "fontSize": 15.5, "fontWeight": "bold", "align": "center", "baseline": "alphabetic", "color": "black"}, "encoding": {"text": {"field": "t"}}},
           {"data": {"name": "f10text"}, "transform": [{"filter": "datum.role == 'titrc'"}], "mark": {"type": "text", "fontSize": 15.5, "fontWeight": "bold", "align": "center", "baseline": "alphabetic", "angle": 270, "color": "black"}, "encoding": {"text": {"field": "t"}}},
           {"data": {"name": "f10text"}, "transform": [{"filter": "datum.role == 'cap'"}], "mark": {"type": "text", "fontSize": 16, "fontWeight": "bold", "align": "center", "baseline": "alphabetic", "color": "black"}, "encoding": {"text": {"field": "t"}}}
         ]
        }
      ]}
    ]}
  ]},
  {"spacing": 0, "hconcat": [
    {"width": 32.9, "height": 1, "data": {"values": []}, "mark": "point"},
    {"width": 877, "height": 289,
     "encoding": {
       "x": {"field": "x", "type": "quantitative", "scale": {"type": "log", "domain": [0.00001, 0.1], "nice": false},
             "axis": {"title": null, "values": [0.00001,0.00002,0.00003,0.00004,0.00005,0.00006,0.00007,0.00008,0.00009,0.0001,0.0002,0.0003,0.0004,0.0005,0.0006,0.0007,0.0008,0.0009,0.001,0.002,0.003,0.004,0.005,0.006,0.007,0.008,0.009,0.01,0.02,0.03,0.04,0.05,0.06,0.07,0.08,0.09,0.1], "format": "~g", "labelExpr": "indexof([0.00001,0.0001,0.001,0.01,0.1], datum.value) >= 0 ? format(datum.value, '~g') : ''", "labelPadding": 17.5,
                      "gridOpacity": {"condition": {"test": "datum.value == 0.00001", "value": 0}, "value": 1}}},
       "y": {"field": "y", "type": "quantitative", "scale": {"type": "log", "domain": [0.01, 10], "nice": false},
             "axis": {"title": null, "values": [0.01,0.02,0.03,0.04,0.05,0.06,0.07,0.08,0.09,0.1,0.2,0.3,0.4,0.5,0.6,0.7,0.8,0.9,1,2,3,4,5,6,7,8,9,10], "format": "~g", "labelExpr": "indexof([0.01,0.1,1,10], datum.value) >= 0 ? format(datum.value, '~g') : ''", "labelPadding": 12,
                      "gridOpacity": {"condition": {"test": "datum.value == 0.01", "value": 0}, "value": 1}}}
     },
     "layer": [
       {"data": {"name": "f11box"}, "mark": {"type": "rect", "fill": "white"}, "encoding": {"x2": {"field": "x2"}, "y2": {"field": "y2"}}},
       {"data": {"name": "f11line"}, "mark": {"type": "line", "color": "black", "strokeWidth": 3, "interpolate": "monotone"}, "encoding": {"detail": {"field": "s"}, "order": {"field": "o", "type": "quantitative"}}},
       {"data": {"name": "f11pulse"}, "mark": {"type": "line", "color": "black", "strokeWidth": 2.5}, "encoding": {"order": {"field": "o", "type": "quantitative"}}},
       {"data": {"name": "f11rule"}, "mark": {"type": "rule", "color": "black", "strokeWidth": 1.3}, "encoding": {"x2": {"field": "x2"}, "y2": {"field": "y2"}}},
       {"data": {"name": "f11hd"}, "mark": {"type": "point", "shape": "triangle-down", "filled": true, "color": "black", "opacity": 1, "size": 40}},
       {"data": {"name": "f11hu"}, "mark": {"type": "point", "shape": "triangle-up", "filled": true, "color": "black", "opacity": 1, "size": 40}},
       {"data": {"name": "f11hr"}, "mark": {"type": "point", "shape": "triangle-right", "filled": true, "color": "black", "opacity": 1, "size": 40}},
       {"data": {"name": "f11hl"}, "mark": {"type": "point", "shape": "triangle-left", "filled": true, "color": "black", "opacity": 1, "size": 40}},
       {"data": {"name": "f11text"}, "transform": [{"filter": "datum.role == 'ann'"}], "mark": {"type": "text", "fontSize": 16, "align": "left", "baseline": "alphabetic", "color": "black"}, "encoding": {"text": {"field": "t"}}},
       {"data": {"name": "f11text"}, "transform": [{"filter": "datum.role == 'sub'"}], "mark": {"type": "text", "fontSize": 11, "align": "left", "baseline": "alphabetic", "dy": 2, "color": "black"}, "encoding": {"text": {"field": "t"}}},
       {"data": {"name": "f11text"}, "transform": [{"filter": "datum.role == 'titc'"}], "mark": {"type": "text", "fontSize": 15.5, "fontWeight": "bold", "align": "center", "baseline": "alphabetic", "color": "black"}, "encoding": {"text": {"field": "t"}}},
       {"data": {"name": "f11text"}, "transform": [{"filter": "datum.role == 'titr'"}], "mark": {"type": "text", "fontSize": 15.5, "fontWeight": "bold", "align": "left", "baseline": "alphabetic", "angle": 270, "color": "black"}, "encoding": {"text": {"field": "t"}}},
       {"data": {"name": "f11text"}, "transform": [{"filter": "datum.role == 'titrsub'"}], "mark": {"type": "text", "fontSize": 11, "fontWeight": "bold", "align": "left", "baseline": "alphabetic", "angle": 270, "dy": 2, "color": "black"}, "encoding": {"text": {"field": "t"}}},
       {"data": {"name": "f11text"}, "transform": [{"filter": "datum.role == 'titrc'"}], "mark": {"type": "text", "fontSize": 15.5, "fontWeight": "bold", "align": "center", "baseline": "alphabetic", "angle": 270, "color": "black"}, "encoding": {"text": {"field": "t"}}},
       {"data": {"name": "f11text"}, "transform": [{"filter": "datum.role == 'cap'"}], "mark": {"type": "text", "fontSize": 16, "fontWeight": "bold", "align": "center", "baseline": "alphabetic", "color": "black"}, "encoding": {"text": {"field": "t"}}}
     ]
    }
  ]}
]
}
